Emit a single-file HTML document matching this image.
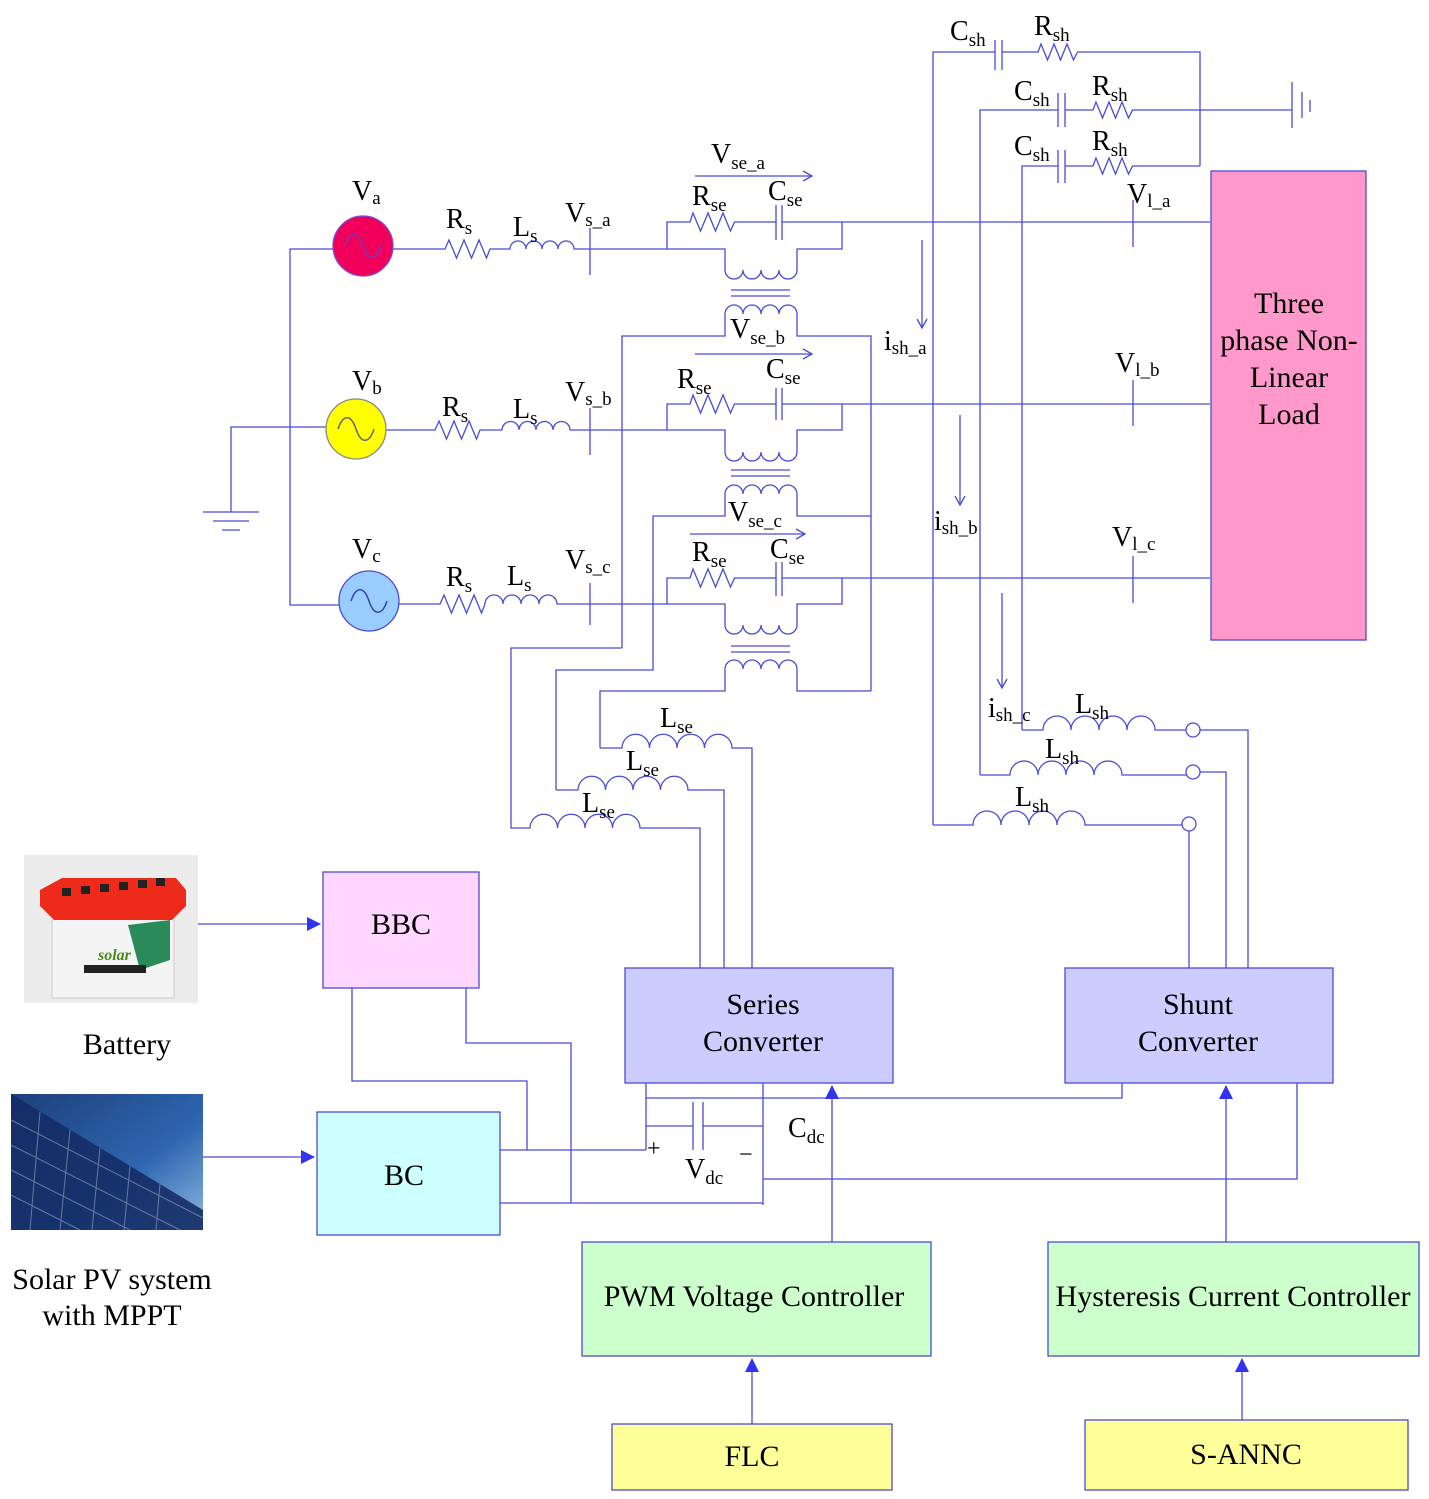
<!DOCTYPE html>
<html><head><meta charset="utf-8"><style>
html,body{margin:0;padding:0;background:#fff;}
svg{display:block;}
text{font-family:"Liberation Serif",serif;fill:#000;}
</style></head><body>
<svg width="1429" height="1499" viewBox="0 0 1429 1499" xmlns="http://www.w3.org/2000/svg">
<defs>
<marker id="oa" markerWidth="12" markerHeight="12" refX="10" refY="6" orient="auto" markerUnits="userSpaceOnUse"><path d="M1,1 L10,6 L1,11" fill="none" stroke="#4b4bd6" stroke-width="1.3"/></marker>
<marker id="fa" markerWidth="14" markerHeight="16" refX="13" refY="7" orient="auto" markerUnits="userSpaceOnUse"><path d="M0,0 L14,7 L0,14 Z" fill="#3333ee"/></marker>
<linearGradient id="sky" x1="0" y1="0" x2="1" y2="1"><stop offset="0" stop-color="#1d3f7a"/><stop offset="0.6" stop-color="#2e66b0"/><stop offset="1" stop-color="#8fb8e0"/></linearGradient>
</defs>
<g fill="none" stroke="#4b4bd6" stroke-width="1.3">
<path d="M333,249 H290 V605 H339"/>
<path d="M326,427 H231 V512"/>
<path d="M203,512 H259 M213,521 H249 M222,530 H240"/>
<path d="M393,249 H445 l4,-9 l7.5,18 l7.5,-18 l7.5,18 l7.5,-18 l7.5,18 l3.5,-9 H510 a8,8 0 0 1 16,0 a8,8 0 0 1 16,0 a8,8 0 0 1 16,0 a8,8 0 0 1 16,0 H667"/>
<path d="M590,228 V275"/>
<path d="M667,249 V222 H690 l3,-9 l7.5,18 l7.5,-18 l7.5,18 l7.5,-18 l7.5,18 l4,-9 H776 M782,222 H1210"/>
<path d="M776,205 V240 M782,205 V240"/>
<path d="M667,249 H725 V270 a9,9 0 0 0 18,0 a9,9 0 0 0 18,0 a9,9 0 0 0 18,0 a9,9 0 0 0 18,0 V249 H842 V222"/>
<path d="M731,290 H790 M731,296 H790"/>
<path d="M622,648 V336 H725 V314 a9,9 0 0 1 18,0 a9,9 0 0 1 18,0 a9,9 0 0 1 18,0 a9,9 0 0 1 18,0 V336 H871 V691"/>
<path d="M386,430 H435 l4,-9 l7.5,18 l7.5,-18 l7.5,18 l7.5,-18 l7.5,18 l3.5,-9 H502 a8.5,8.5 0 0 1 17,0 a8.5,8.5 0 0 1 17,0 a8.5,8.5 0 0 1 17,0 a8.5,8.5 0 0 1 17,0 H667"/>
<path d="M590,408 V455"/>
<path d="M667,430 V404 H690 l3,-9 l7.5,18 l7.5,-18 l7.5,18 l7.5,-18 l7.5,18 l4,-9 H776 M782,404 H1210"/>
<path d="M776,388 V420 M782,388 V420"/>
<path d="M667,430 H725 V452 a9,9 0 0 0 18,0 a9,9 0 0 0 18,0 a9,9 0 0 0 18,0 a9,9 0 0 0 18,0 V430 H842 V404"/>
<path d="M731,470 H790 M731,476 H790"/>
<path d="M556,790 V670 H653 V516 H725 V494 a9,9 0 0 1 18,0 a9,9 0 0 1 18,0 a9,9 0 0 1 18,0 a9,9 0 0 1 18,0 V516 H871"/>
<path d="M399,604 H440 l4,-9 l7.5,18 l7.5,-18 l7.5,18 l7.5,-18 l7.5,18 l3.5,-9 a9,9 0 0 1 18,0 a9,9 0 0 1 18,0 a9,9 0 0 1 18,0 a9,9 0 0 1 18,0 H667"/>
<path d="M590,583 V625"/>
<path d="M667,604 V578 H690 l3,-9 l7.5,18 l7.5,-18 l7.5,18 l7.5,-18 l7.5,18 l4,-9 H776 M782,578 H1210"/>
<path d="M776,562 V596 M782,562 V596"/>
<path d="M667,604 H725 V625 a9,9 0 0 0 18,0 a9,9 0 0 0 18,0 a9,9 0 0 0 18,0 a9,9 0 0 0 18,0 V604 H842 V578"/>
<path d="M731,646 H790 M731,652 H790"/>
<path d="M600,748 V691 H725 V669 a9,9 0 0 1 18,0 a9,9 0 0 1 18,0 a9,9 0 0 1 18,0 a9,9 0 0 1 18,0 V691 H871"/>
<path d="M600,748 H622 a13.75,13.75 0 0 1 27.5,0 a13.75,13.75 0 0 1 27.5,0 a13.75,13.75 0 0 1 27.5,0 a13.75,13.75 0 0 1 27.5,0 H752 V968"/>
<path d="M556,790 H578 a13.75,13.75 0 0 1 27.5,0 a13.75,13.75 0 0 1 27.5,0 a13.75,13.75 0 0 1 27.5,0 a13.75,13.75 0 0 1 27.5,0 H724 V968"/>
<path d="M622,648 H511 V828 H530 a13.75,13.75 0 0 1 27.5,0 a13.75,13.75 0 0 1 27.5,0 a13.75,13.75 0 0 1 27.5,0 a13.75,13.75 0 0 1 27.5,0 H700 V968"/>
<path d="M695,176 H812" marker-end="url(#oa)"/>
<path d="M695,354 H812" marker-end="url(#oa)"/>
<path d="M690,534 H805" marker-end="url(#oa)"/>
<path d="M1133,200 V247 M1133,380 V426 M1133,556 V603"/>
<path d="M933,825 V52 H995 M1002,52 H1038 l3,-8 l6.5,16 l6.5,-16 l6.5,16 l6.5,-16 l6.5,16 l4,-8 H1200 V166"/>
<path d="M995,40 V70 M1002,40 V70"/>
<path d="M980,775 V110 H1058 M1065,110 H1093 l3,-8 l6.5,16 l6.5,-16 l6.5,16 l6.5,-16 l6.5,16 l4,-8 H1292"/>
<path d="M1058,93 V127 M1065,93 V127"/>
<path d="M1292,82 V128 M1302,92 V118 M1310,100 V112"/>
<path d="M1022,730 V166 H1058 M1065,166 H1093 l3,-8 l6.5,16 l6.5,-16 l6.5,16 l6.5,-16 l6.5,16 l4,-8 H1200"/>
<path d="M1058,150 V183 M1065,150 V183"/>
<path d="M922,240 V328" marker-end="url(#oa)"/>
<path d="M960,415 V505" marker-end="url(#oa)"/>
<path d="M1002,593 V688" marker-end="url(#oa)"/>
<path d="M1022,730 H1043 a14,14 0 0 1 28,0 a14,14 0 0 1 28,0 a14,14 0 0 1 28,0 a14,14 0 0 1 28,0 H1186 M1200,730 H1248 V968"/>
<circle cx="1193" cy="730" r="7"/>
<path d="M980,775 H1010 a14,14 0 0 1 28,0 a14,14 0 0 1 28,0 a14,14 0 0 1 28,0 a14,14 0 0 1 28,0 H1186 M1200,772 H1226 V968"/>
<circle cx="1193" cy="772" r="7"/>
<path d="M933,825 H973 a14,14 0 0 1 28,0 a14,14 0 0 1 28,0 a14,14 0 0 1 28,0 a14,14 0 0 1 28,0 H1182 M1189,831 V968"/>
<circle cx="1189" cy="824" r="7"/>
<path d="M646,1083 V1150 M763,1083 V1205"/>
<path d="M646,1098 H1122 V1083"/>
<path d="M646,1126 H693 M703,1126 H763"/>
<path d="M693,1102 V1150 M703,1102 V1150"/>
<path d="M763,1179 H1297 V1083"/>
<path d="M352,988 V1081 H527 V1150 M500,1150 H646"/>
<path d="M466,988 V1043 H571 V1203 M500,1203 H763"/>
</g>
<g stroke="#4b4bd6" stroke-width="1.3" fill="none">
<path d="M832,1242 V1086" marker-end="url(#fa)"/>
<path d="M1226,1242 V1086" marker-end="url(#fa)"/>
<path d="M752,1424 V1359" marker-end="url(#fa)"/>
<path d="M1242,1420 V1359" marker-end="url(#fa)"/>
<path d="M198,924 H320" marker-end="url(#fa)"/>
<path d="M203,1157 H314" marker-end="url(#fa)"/>
</g>
<g stroke="#7a4bd6" stroke-width="1.3">
<circle cx="363" cy="246" r="30" fill="#f0005a"/>
<circle cx="356" cy="429" r="30" fill="#ffff00" stroke="#888"/>
<circle cx="369" cy="601" r="30" fill="#99ccff" stroke="#4b4bd6"/>
</g>
<g fill="none" stroke="#7a3bb0" stroke-width="1.5">
<path d="M345,246 c5,-15 13,-15 18,0 c5,15 13,15 18,0"/>
<path d="M338,429 c5,-15 13,-15 18,0 c5,15 13,15 18,0" stroke="#666"/>
<path d="M351,601 c5,-15 13,-15 18,0 c5,15 13,15 18,0" stroke="#3344aa"/>
</g>
<g stroke="#4b4bd6" stroke-width="1.3">
<rect x="1211" y="171" width="155" height="469" fill="#ff99cc"/>
<rect x="625" y="968" width="268" height="115" fill="#ccccff"/>
<rect x="1065" y="968" width="268" height="115" fill="#ccccff"/>
<rect x="323" y="872" width="156" height="116" fill="#ffd6ff"/>
<rect x="317" y="1112" width="183" height="123" fill="#ccffff"/>
<rect x="582" y="1242" width="349" height="114" fill="#ccffcc"/>
<rect x="1048" y="1242" width="371" height="114" fill="#ccffcc"/>
<rect x="612" y="1424" width="280" height="66" fill="#ffff99"/>
<rect x="1085" y="1420" width="323" height="70" fill="#ffff99"/>
</g>
<rect x="24" y="855" width="174" height="148" fill="#ececec"/>
<rect x="52" y="912" width="122" height="86" fill="#f4f4f4" stroke="#ccc"/>
<path d="M40,890 L62,878 H176 L186,890 V906 L172,920 H54 L40,906 Z" fill="#ee2a1a"/>
<g fill="#222"><rect x="62" y="888" width="9" height="8"/><rect x="81" y="886" width="9" height="8"/><rect x="100" y="884" width="9" height="8"/><rect x="119" y="882" width="9" height="8"/><rect x="138" y="880" width="9" height="8"/><rect x="156" y="878" width="9" height="8"/></g>
<path d="M128,925 L170,920 V960 L140,970 Z" fill="#2a8a5a"/>
<rect x="84" y="965" width="62" height="8" fill="#222"/>
<text x="98" y="960" font-size="16" style="fill:#4a8a1a;font-style:italic;font-weight:bold">solar</text>
<rect x="11" y="1094" width="192" height="136" fill="url(#sky)"/>
<path d="M11,1094 L203,1210 V1230 H11 Z" fill="#142c66" opacity="0.9"/>
<g stroke="#ffffff" stroke-opacity="0.35" stroke-width="1">
<path d="M11,1120 L203,1218 M11,1145 L180,1230 M11,1170 L130,1230 M11,1195 L80,1230 M40,1112 L30,1230 M70,1130 L60,1230 M100,1148 L92,1230 M130,1166 L124,1230 M160,1184 L156,1230"/>
</g>
<g font-size="28">
<text x="352" y="200">V<tspan font-size="19" dy="4">a</tspan></text>
<text x="352" y="390">V<tspan font-size="19" dy="4">b</tspan></text>
<text x="352" y="558">V<tspan font-size="19" dy="4">c</tspan></text>
<text x="446" y="228">R<tspan font-size="19" dy="6">s</tspan></text>
<text x="513" y="236">L<tspan font-size="19" dy="6">s</tspan></text>
<text x="565" y="222">V<tspan font-size="19" dy="4">s_a</tspan></text>
<text x="442" y="416">R<tspan font-size="19" dy="6">s</tspan></text>
<text x="513" y="418">L<tspan font-size="19" dy="6">s</tspan></text>
<text x="565" y="401">V<tspan font-size="19" dy="4">s_b</tspan></text>
<text x="446" y="586">R<tspan font-size="19" dy="6">s</tspan></text>
<text x="507" y="585">L<tspan font-size="19" dy="6">s</tspan></text>
<text x="565" y="569">V<tspan font-size="19" dy="4">s_c</tspan></text>
<text x="711" y="163">V<tspan font-size="19" dy="6">se_a</tspan></text>
<text x="692" y="205">R<tspan font-size="19" dy="6">se</tspan></text>
<text x="768" y="200">C<tspan font-size="19" dy="6">se</tspan></text>
<text x="730" y="338">V<tspan font-size="19" dy="6">se_b</tspan></text>
<text x="677" y="388">R<tspan font-size="19" dy="6">se</tspan></text>
<text x="766" y="378">C<tspan font-size="19" dy="6">se</tspan></text>
<text x="728" y="521">V<tspan font-size="19" dy="6">se_c</tspan></text>
<text x="692" y="561">R<tspan font-size="19" dy="6">se</tspan></text>
<text x="770" y="558">C<tspan font-size="19" dy="6">se</tspan></text>
<text x="950" y="40">C<tspan font-size="19" dy="6">sh</tspan></text>
<text x="1034" y="35">R<tspan font-size="19" dy="6">sh</tspan></text>
<text x="1014" y="100">C<tspan font-size="19" dy="6">sh</tspan></text>
<text x="1092" y="95">R<tspan font-size="19" dy="6">sh</tspan></text>
<text x="1014" y="155">C<tspan font-size="19" dy="6">sh</tspan></text>
<text x="1092" y="150">R<tspan font-size="19" dy="6">sh</tspan></text>
<text x="1127" y="203">V<tspan font-size="19" dy="4">l_a</tspan></text>
<text x="1115" y="372">V<tspan font-size="19" dy="4">l_b</tspan></text>
<text x="1112" y="546">V<tspan font-size="19" dy="4">l_c</tspan></text>
<text x="884" y="350">i<tspan font-size="19" dy="4">sh_a</tspan></text>
<text x="934" y="530">i<tspan font-size="19" dy="4">sh_b</tspan></text>
<text x="988" y="717">i<tspan font-size="19" dy="4">sh_c</tspan></text>
<text x="1075" y="713">L<tspan font-size="19" dy="6">sh</tspan></text>
<text x="1045" y="758">L<tspan font-size="19" dy="6">sh</tspan></text>
<text x="1015" y="806">L<tspan font-size="19" dy="6">sh</tspan></text>
<text x="660" y="727">L<tspan font-size="19" dy="6">se</tspan></text>
<text x="626" y="770">L<tspan font-size="19" dy="6">se</tspan></text>
<text x="582" y="812">L<tspan font-size="19" dy="6">se</tspan></text>
<text x="788" y="1137">C<tspan font-size="19" dy="6">dc</tspan></text>
<text x="685" y="1178">V<tspan font-size="19" dy="6">dc</tspan></text>
<text x="647" y="1156" font-size="24">+</text>
<text x="739" y="1162" font-size="24">−</text>
</g>
<g font-size="30" text-anchor="middle">
<text x="1289" y="313">Three</text>
<text x="1289" y="350">phase Non-</text>
<text x="1289" y="387">Linear</text>
<text x="1289" y="424">Load</text>
<text x="763" y="1014">Series</text>
<text x="763" y="1051">Converter</text>
<text x="1198" y="1014">Shunt</text>
<text x="1198" y="1051">Converter</text>
<text x="401" y="934">BBC</text>
<text x="404" y="1185">BC</text>
<text x="754" y="1306">PWM Voltage Controller</text>
<text x="1233" y="1306">Hysteresis Current Controller</text>
<text x="752" y="1466">FLC</text>
<text x="1246" y="1464">S-ANNC</text>
<text x="127" y="1054">Battery</text>
<text x="112" y="1289">Solar PV system</text>
<text x="112" y="1325">with MPPT</text>
</g>
</svg>
</body></html>
